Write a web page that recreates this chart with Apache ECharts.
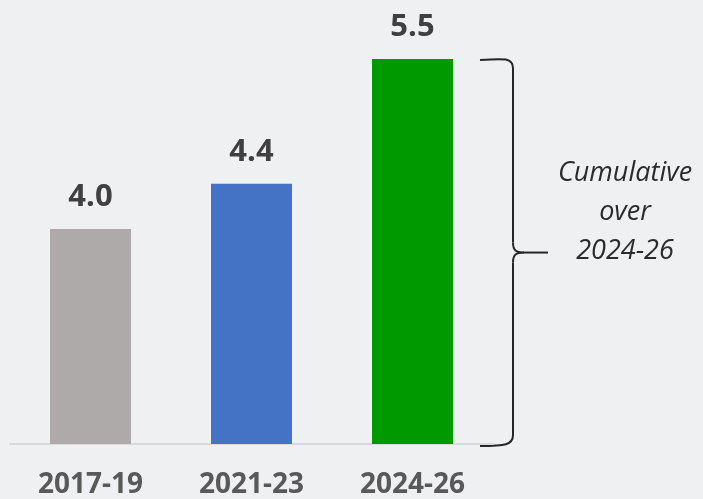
<!DOCTYPE html>
<html>
<head>
<meta charset="utf-8">
<script src="https://cdn.jsdelivr.net/npm/echarts@6/dist/echarts.min.js"></script>
<style>
  html, body { margin: 0; padding: 0; background: #eef0f1; }
  #chart { width: 703px; height: 499px; }
</style>
</head>
<body>
<div id="chart"></div>
<script>
  // periods and values
  const periods = ['2017-19', '2021-23', '2024-26'];
  const values = [4.0, 4.4, 5.5];
  const barColors = ['#aeaaaa', '#4472c4', '#009900'];
  const noteLines = ['Cumulative', 'over', '2024-26'];

  const myChart = echarts.init(document.getElementById('chart'));

  const option = {
    backgroundColor: '#eef0f1',
    animation: false,
    grid: {
      left: 10,
      right: 210,
      top: 2.5,
      bottom: 55,
      containLabel: false
    },
    xAxis: {
      type: 'category',
      data: periods,
      axisTick: { show: false },
      axisLine: {
        show: true,
        lineStyle: { color: '#d9d9d9', width: 2 }
      },
      axisLabel: {
        margin: 27,
        color: '#595959',
        fontSize: 28,
        fontWeight: 'bold',
        fontFamily: '"Open Sans", sans-serif'
      }
    },
    yAxis: {
      type: 'value',
      min: 2.1,
      max: 6.0,
      show: false,
      splitLine: { show: false }
    },
    series: [{
      type: 'bar',
      barWidth: 81,
      data: values.map((v, i) => ({
        value: v,
        itemStyle: { color: barColors[i] }
      })),
      label: {
        show: true,
        position: 'top',
        distance: 16,
        color: '#404040',
        fontSize: 31,
        fontWeight: 'bold',
        fontFamily: '"Open Sans", sans-serif',
        formatter: (p) => p.value.toFixed(1)
      }
    }]
  };

  myChart.setOption(option);

  // brace next to the last bar, sized from the axis
  const lastIdx = values.length - 1;
  const topPt = myChart.convertToPixel({ gridIndex: 0 }, [lastIdx, values[lastIdx]]);
  const botPt = myChart.convertToPixel({ gridIndex: 0 }, [lastIdx, 2.1]);
  const yTop = topPt[1] + 1;
  const yBot = botPt[1] + 1;
  const yMid = (yTop + yBot) / 2;
  const xl = 480, xv = 513, xt = 548;
  const braceStyle = { fill: 'none', stroke: '#262626', lineWidth: 2 };

  const curve = (x1, y1, cx1, cy1, cx2, cy2, x2, y2) => ({
    type: 'bezierCurve',
    shape: { x1: x1, y1: y1, cpx1: cx1, cpy1: cy1, cpx2: cx2, cpy2: cy2, x2: x2, y2: y2 },
    style: braceStyle
  });
  const line = (x1, y1, x2, y2) => ({
    type: 'line',
    shape: { x1: x1, y1: y1, x2: x2, y2: y2 },
    style: braceStyle
  });

  myChart.setOption({
    graphic: [
      curve(xl, yTop, xl + 25, yTop - 2, xv, yTop - 2, xv, yTop + 8),
      line(xv, yTop + 8, xv, yMid - 10),
      curve(xv, yMid - 10, xv, yMid - 2, xv + 3, yMid, xv + 11, yMid),
      line(xv + 11, yMid, xt, yMid),
      curve(xv + 11, yMid, xv + 3, yMid, xv, yMid + 2, xv, yMid + 10),
      line(xv, yMid + 10, xv, yBot - 10),
      curve(xv, yBot - 10, xv, yBot, xl + 25, yBot + 1, xl, yBot + 1),
      {
        type: 'text',
        x: 625,
        y: yMid - 40,
        style: {
          text: noteLines.join('\n'),
          fill: '#2b2b2b',
          fontSize: 27,
          fontStyle: 'italic',
          fontFamily: '"Open Sans", sans-serif',
          lineHeight: 39,
          align: 'center',
          verticalAlign: 'middle'
        }
      }
    ]
  });
</script>
</body>
</html>
